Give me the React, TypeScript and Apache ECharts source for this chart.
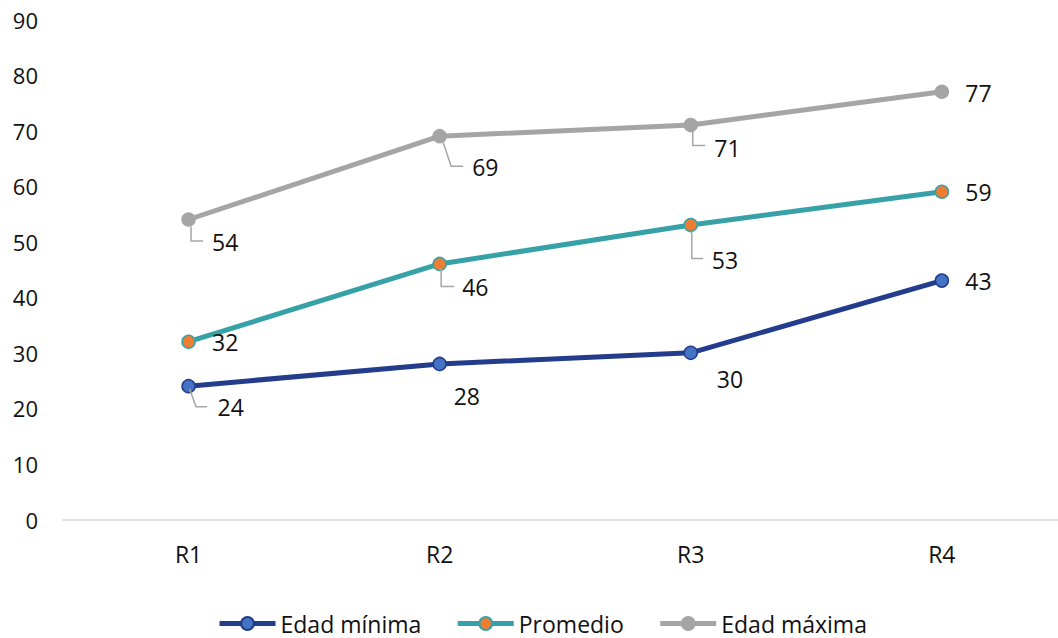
import React, { useEffect, useRef } from "react";
import * as echarts from "echarts";

// Rounds and age values per series
const categories = ["R1", "R2", "R3", "R4"];
const edadMinima = [24, 28, 30, 43];
const promedio = [32, 46, 53, 59];
const edadMaxima = [54, 69, 71, 77];
const yTicks = { min: 0, max: 90, interval: 10 };

// Label placement per point: text offset (dx, dy) from the marker, optional elbow leader
type LabelPos = { dx: number; dy: number; leader?: [number, number][] };

const minLabelPos: LabelPos[] = [
  { dx: 29, dy: 21, leader: [[1, 2.5], [7.5, 20.5], [18.5, 20.5]] },
  { dx: 14, dy: 32 },
  { dx: 26, dy: 26.5 },
  { dx: 23.5, dy: 0 },
];
const promLabelPos: LabelPos[] = [
  { dx: 23.5, dy: 0 },
  { dx: 22.5, dy: 23.5, leader: [[1.5, 4], [1.5, 22.5], [14.5, 22.5]] },
  { dx: 21, dy: 35, leader: [[1, 6.5], [1, 33.5], [12.5, 33.5]] },
  { dx: 23.5, dy: 0.5 },
];
const maxLabelPos: LabelPos[] = [
  { dx: 23.5, dy: 22.5, leader: [[2.5, 7], [2.5, 21.5], [14.5, 21.5]] },
  { dx: 32.5, dy: 30.5, leader: [[3.5, 6], [11.5, 30], [23.5, 30]] },
  { dx: 23.5, dy: 22.5, leader: [[2, 6], [2, 20.5], [14.5, 20.5]] },
  { dx: 23.5, dy: 1 },
];

const FONT = "'Open Sans', 'Noto Sans', sans-serif";

function lineSeries(name: string, values: number[], lineColor: string, fill: string, border: string) {
  return {
    name,
    type: "line",
    data: values,
    symbol: "circle",
    symbolSize: 13,
    lineStyle: { color: lineColor, width: 5 },
    itemStyle: { color: fill, borderColor: border, borderWidth: 1.5 },
    z: 3,
  };
}

function labelSeries(id: string, values: number[], pos: LabelPos[]) {
  return {
    id,
    name: id,
    type: "custom",
    coordinateSystem: "cartesian2d",
    data: values.map((v, i) => [i, v]),
    clip: false,
    z: 5,
    silent: true,
    renderItem: (params: any, api: any) => {
      const p = api.coord([api.value(0), api.value(1)]);
      const lp = pos[params.dataIndex];
      const children: any[] = [];
      if (lp.leader) {
        children.push({
          type: "polyline",
          shape: { points: lp.leader.map(([x, y]) => [p[0] + x, p[1] + y]) },
          style: { stroke: "#A6A6A6", lineWidth: 1.5, fill: null },
        });
      }
      children.push({
        type: "text",
        style: {
          text: String(api.value(1)),
          x: p[0] + lp.dx,
          y: p[1] + lp.dy,
          fill: "#111111",
          fontSize: 23,
          fontFamily: FONT,
          align: "left",
          verticalAlign: "middle",
        },
      });
      return { type: "group", children };
    },
  };
}

export default function App() {
  const ref = useRef<HTMLDivElement>(null);

  useEffect(() => {
    if (!ref.current) return;
    const chart = echarts.init(ref.current, undefined, { renderer: "svg" });
    chart.setOption({
      animation: false,
      backgroundColor: "#ffffff",
      // plot area runs slightly past the right edge of the visible frame
      grid: { left: 63, top: 19.5, width: 1004.4, height: 500, containLabel: false },
      legend: {
        data: ["Edad mínima", "Promedio", "Edad máxima"],
        left: 217,
        top: 612,
        padding: 0,
        itemWidth: 56,
        itemHeight: 16,
        itemGap: 34,
        lineStyle: { width: 5 },
        textStyle: { fontSize: 23, fontFamily: FONT, color: "#111111" },
      },
      xAxis: {
        type: "category",
        data: categories,
        boundaryGap: true,
        axisLine: { show: true, lineStyle: { color: "#D9D9D9", width: 1.5 } },
        axisTick: { show: false },
        axisLabel: { fontSize: 23, fontFamily: FONT, color: "#111111", margin: 23 },
        splitLine: { show: false },
      },
      yAxis: {
        type: "value",
        min: yTicks.min,
        max: yTicks.max,
        interval: yTicks.interval,
        axisLine: { show: false },
        axisTick: { show: false },
        axisLabel: { fontSize: 22, fontFamily: FONT, color: "#111111", margin: 25 },
        splitLine: { show: false },
      },
      series: [
        lineSeries("Edad mínima", edadMinima, "#233D8C", "#4472C4", "#233D8C"),
        lineSeries("Promedio", promedio, "#36A2A8", "#ED7D31", "#36A2A8"),
        lineSeries("Edad máxima", edadMaxima, "#A5A5A5", "#A5A5A5", "#A5A5A5"),
        labelSeries("lbl-min", edadMinima, minLabelPos),
        labelSeries("lbl-prom", promedio, promLabelPos),
        labelSeries("lbl-max", edadMaxima, maxLabelPos),
      ],
    });
    return () => chart.dispose();
  }, []);

  return (
    <div
      style={{
        position: "absolute",
        left: 0,
        top: 0,
        width: 1058,
        height: 638,
        overflow: "hidden",
        background: "#ffffff",
      }}
    >
      <div ref={ref} style={{ width: 1070, height: 638 }} />
    </div>
  );
}
